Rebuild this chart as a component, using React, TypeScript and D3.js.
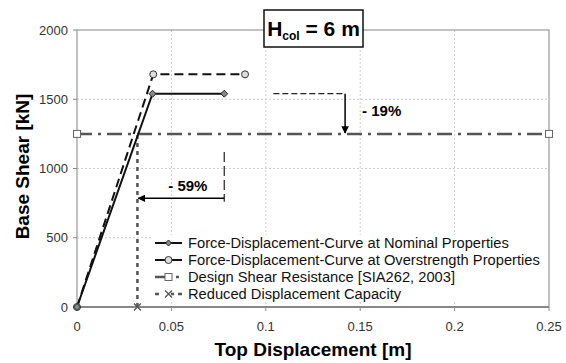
import React from 'react'
import * as d3 from 'd3'

const nominalX = [0, 0.04, 0.078]
const nominalY = [0, 1540, 1540]
const overX = [0, 0.0404, 0.089]
const overY = [0, 1680, 1680]
const designX = [0, 0.25]
const designY = [1250, 1250]
const reducedX = [0.032, 0.032]
const reducedY = [0, 1250]

const xTicks = [0, 0.05, 0.1, 0.15, 0.2, 0.25]
const yTicks = [0, 500, 1000, 1500, 2000]

const legendLabels = [
  'Force-Displacement-Curve at Nominal Properties',
  'Force-Displacement-Curve at Overstrength Properties',
  'Design Shear Resistance [SIA262, 2003]',
  'Reduced Displacement Capacity',
]

const W = 566
const H = 363
const margin = { left: 77, right: 17, top: 30, bottom: 56 }
const FONT = 'Arial, "Liberation Sans", sans-serif'

const x = d3.scaleLinear().domain([0, 0.25]).range([margin.left, W - margin.right])
const y = d3.scaleLinear().domain([0, 2000]).range([H - margin.bottom, margin.top])

const pts = (xs, ys) => xs.map((v, i) => [v, ys[i]])
const line = d3.line().x(d => x(d[0])).y(d => y(d[1]))

function Diamond({ cx, cy, r = 3.5 }) {
  return (
    <path
      d={`M${cx},${cy - r}L${cx + r},${cy}L${cx},${cy + r}L${cx - r},${cy}Z`}
      fill="#888"
      stroke="#222"
      strokeWidth={1}
    />
  )
}

function Circle({ cx, cy }) {
  return <circle cx={cx} cy={cy} r={3.5} fill="#ddd" stroke="#333" strokeWidth={1} />
}

function Square({ cx, cy }) {
  return <rect x={cx - 3.5} y={cy - 3.5} width={7} height={7} fill="#fff" stroke="#666" strokeWidth={1} />
}

function Cross({ cx, cy }) {
  const r = 3.5
  return (
    <path d={`M${cx - r},${cy - r}L${cx + r},${cy + r}M${cx - r},${cy + r}L${cx + r},${cy - r}`} stroke="#555" strokeWidth={1.3} />
  )
}

export default function App() {
  const nom = pts(nominalX, nominalY)
  const over = pts(overX, overY)
  const des = pts(designX, designY)
  const red = pts(reducedX, reducedY)
  const x0 = margin.left
  const x1 = W - margin.right
  const y0 = H - margin.bottom
  const y1 = margin.top

  // annotation positions derived from data
  const yNom = y(nominalY[1])
  const yDes = y(designY[0])
  const xArr19 = x(0.142)
  const xEnd = x(nominalX[2])
  const xRed = x(reducedX[0])

  const legX = 155
  const legY = [243, 260, 277, 294]

  return (
    <svg width={W} height={H} style={{ position: 'absolute', left: 0, top: 0, fontFamily: FONT }}>
      <defs>
        <marker id="arr" viewBox="0 0 10 10" refX="9" refY="5" markerWidth="5" markerHeight="5" orient="auto">
          <path d="M0,0L10,5L0,10Z" fill="#000" />
        </marker>
      </defs>
      <rect width={W} height={H} fill="#fff" />
      {/* grid */}
      {xTicks.slice(1, -1).map(t => (
        <line key={'gx' + t} x1={x(t)} x2={x(t)} y1={y1} y2={y0} stroke="#ccc" strokeWidth={1} strokeDasharray="2,2" />
      ))}
      {yTicks.slice(1, -1).map(t => (
        <line key={'gy' + t} x1={x0} x2={x1} y1={y(t)} y2={y(t)} stroke="#ccc" strokeWidth={1} strokeDasharray="2,2" />
      ))}
      {/* frame */}
      <rect x={x0} y={y1} width={x1 - x0} height={y0 - y1} fill="none" stroke="#999" strokeWidth={1.2} />
      <line x1={x0} x2={x1} y1={y0} y2={y0} stroke="#888" strokeWidth={2} />
      {/* ticks */}
      {xTicks.map(t => (
        <g key={'xt' + t}>
          <line x1={x(t)} x2={x(t)} y1={y0} y2={y0 + 4} stroke="#888" />
          <text x={x(t)} y={y0 + 24} textAnchor="middle" fontSize={13} fill="#333">{t}</text>
        </g>
      ))}
      {yTicks.map(t => (
        <g key={'yt' + t}>
          <line x1={x0 - 4} x2={x0} y1={y(t)} y2={y(t)} stroke="#888" />
          <text x={x0 - 9} y={y(t) + 4.5} textAnchor="end" fontSize={13} fill="#333">{t}</text>
        </g>
      ))}
      {/* series */}
      <path d={line(des)} fill="none" stroke="#555" strokeWidth={2.5} strokeDasharray="15,6,3,6" />
      <path d={line(red)} fill="none" stroke="#555" strokeWidth={2.5} strokeDasharray="4,4" />
      <path d={line(over)} fill="none" stroke="#111" strokeWidth={2} strokeDasharray="9,5" />
      <path d={line(nom)} fill="none" stroke="#111" strokeWidth={2} />
      {des.map((d, i) => <Square key={'s' + i} cx={x(d[0])} cy={y(d[1])} />)}
      <Cross cx={x(red[0][0])} cy={y(red[0][1])} />
      {over.map((d, i) => <Circle key={'c' + i} cx={x(d[0])} cy={y(d[1])} />)}
      {nom.map((d, i) => <Diamond key={'d' + i} cx={x(d[0])} cy={y(d[1])} />)}

      {/* -19% annotation */}
      <line x1={x(0.104)} x2={xArr19} y1={yNom} y2={yNom} stroke="#222" strokeWidth={1.3} strokeDasharray="6,3" />
      <line x1={xArr19} x2={xArr19} y1={yNom} y2={yDes - 1} stroke="#000" strokeWidth={1.5} markerEnd="url(#arr)" />
      <text x={xArr19 + 17} y={yNom + 22} fontSize={15} fontWeight="bold">- 19%</text>

      {/* -59% annotation */}
      <line x1={xEnd} x2={xEnd} y1={y(1120)} y2={y(760)} stroke="#333" strokeWidth={1.3} strokeDasharray="10,4" />
      <line x1={xEnd} x2={xRed + 1} y1={y(785)} y2={y(785)} stroke="#000" strokeWidth={1.5} markerEnd="url(#arr)" />
      <text x={(xEnd + xRed) / 2 + 7} y={y(785) - 7} textAnchor="middle" fontSize={15} fontWeight="bold">- 59%</text>

      {/* legend */}
      <rect x={legX - 3} y={legY[0] - 8} width={x1 - legX + 2} height={legY[3] - legY[0] + 16} fill="#fff" />
      <g fontSize={14.7} fill="#111">
        <line x1={legX} x2={legX + 27} y1={legY[0]} y2={legY[0]} stroke="#111" strokeWidth={2} />
        <Diamond cx={legX + 13.5} cy={legY[0]} r={3} />
        <line x1={legX} x2={legX + 27} y1={legY[1]} y2={legY[1]} stroke="#111" strokeWidth={2} />
        <Circle cx={legX + 13.5} cy={legY[1]} />
        <line x1={legX} x2={legX + 27} y1={legY[2]} y2={legY[2]} stroke="#555" strokeWidth={2.5} strokeDasharray="15,6,3,6" />
        <Square cx={legX + 13.5} cy={legY[2]} />
        <line x1={legX} x2={legX + 27} y1={legY[3]} y2={legY[3]} stroke="#555" strokeWidth={2.5} strokeDasharray="4,6,0,6,3" />
        <Cross cx={legX + 13.5} cy={legY[3]} />
        {legendLabels.map((l, i) => (
          <text key={l} x={legX + 33} y={legY[i] + 5}>{l}</text>
        ))}
      </g>

      {/* title box */}
      <rect x={264} y={10} width={99} height={37} fill="#fff" stroke="#111" strokeWidth={1.5} />
      <text x={313.5} y={36} textAnchor="middle" fontSize={21} fontWeight="bold">
        H<tspan fontSize={12} dy={4}>col</tspan><tspan dy={-4}> = 6 m</tspan>
      </text>

      {/* axis titles */}
      <text x={313} y={356} textAnchor="middle" fontSize={19} fontWeight="bold">Top Displacement [m]</text>
      <text transform={`translate(29,${(y0 + y1) / 2 - 2}) rotate(-90)`} textAnchor="middle" fontSize={19} fontWeight="bold">Base Shear [kN]</text>
    </svg>
  )
}
